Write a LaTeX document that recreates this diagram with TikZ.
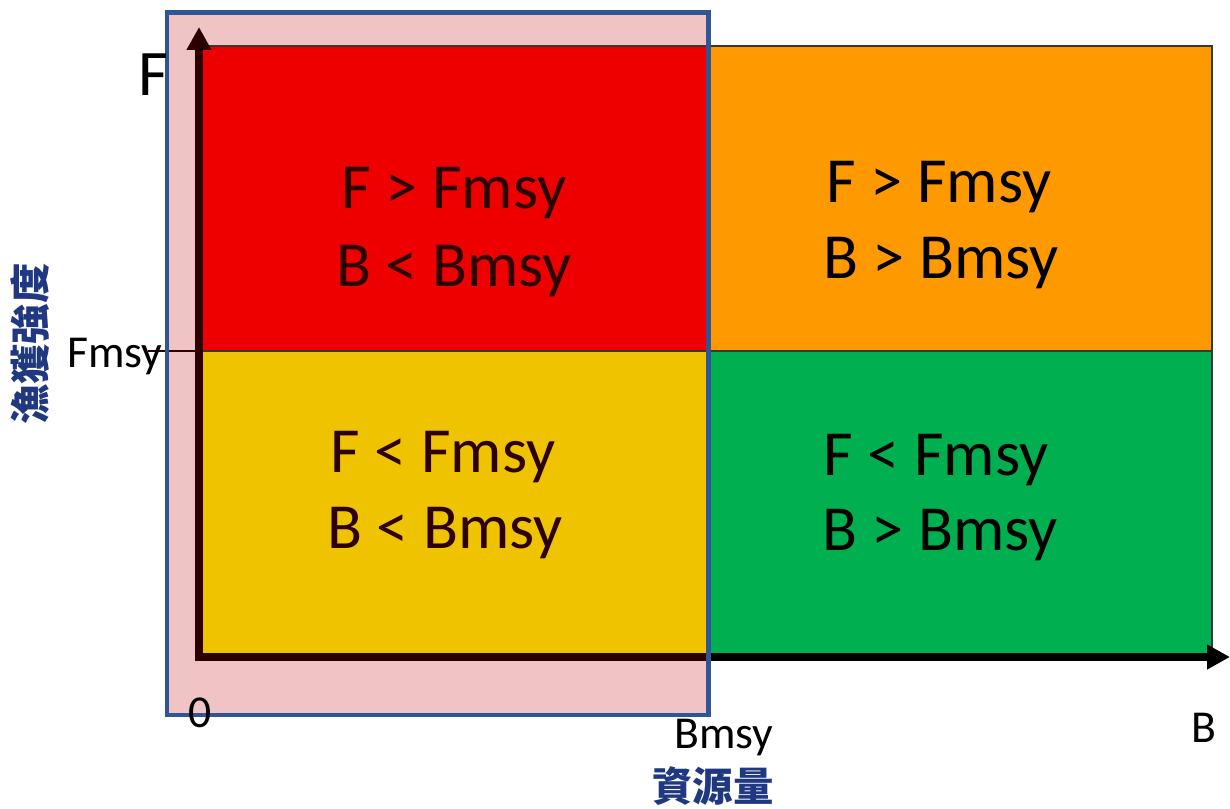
\documentclass[tikz,border=0pt]{standalone}
\usepackage{fontspec}
\setmainfont{Carlito}
\newfontfamily\cjk{Noto Sans CJK TC}
\usetikzlibrary{arrows.meta}
\definecolor{qred}{RGB}{238,0,0}
\definecolor{qorange}{RGB}{255,153,0}
\definecolor{qyellow}{RGB}{240,195,0}
\definecolor{qgreen}{RGB}{0,176,80}
\definecolor{pinkbg}{RGB}{240,195,197}
\definecolor{frameblue}{RGB}{47,85,151}
\definecolor{darkbrown}{RGB}{45,0,0}
\definecolor{cjkblue}{RGB}{32,56,130}
\definecolor{edgegray}{RGB}{55,55,55}
\tikzset{
  quad/.style={draw=edgegray, line width=0.04cm},
  qtext/.style={anchor=base, inner sep=0, font=\fontsize{36.6}{44}\selectfont},
  axlabel/.style={anchor=base, inner sep=0, font=\fontsize{26}{30}\selectfont},
  cjklabel/.style={inner sep=0, text=cjkblue, font=\cjk\bfseries\fontsize{23}{28}\selectfont},
  axisline/.style={line width=0.15cm, line join=miter},
  tip/.style={-{Triangle[length=0.46cm,width=0.47cm]}},
}
\begin{document}
\begin{tikzpicture}[x=0.02cm,y=-0.02cm]
\useasboundingbox (0,0) rectangle (1230,808);
% pink region
\fill[pinkbg] (167,12.5) rectangle (708.5,715);
% quadrants
\draw[quad, fill=qred] (200,46) rectangle (708,351);
\draw[quad, fill=qorange] (708,46) rectangle (1212,351);
\draw[quad, fill=qyellow] (200,351) rectangle (708,657);
\draw[quad, fill=qgreen] (708,351) rectangle (1212,657);
% coordinates
\coordinate (ytip) at (199,27);
\coordinate (origin) at (199,657);
\coordinate (bmsyaxis) at (708,657);
\coordinate (xtip) at (1230,657);
\coordinate (fmsytick) at (148,351);
\coordinate (fmsyaxis) at (200,351);
% Fmsy tick
\draw[darkbrown, line width=0.04cm] (fmsytick) -- (fmsyaxis);
% axes
\draw[axisline, darkbrown, {Triangle[length=0.46cm,width=0.47cm]}-] (ytip) -- (origin) -- (bmsyaxis);
\draw[axisline, black, tip] (bmsyaxis) -- (xtip);
% blue frame
\draw[frameblue, line width=0.09cm] (167,12.5) rectangle (708.5,715);
% quadrant texts
\node[qtext, text=darkbrown] (r1) at (454,208) {F > Fmsy};
\node[qtext, text=darkbrown] (r2) at (454,286) {B < Bmsy};
\node[qtext] (o1) at (939,202) {F > Fmsy};
\node[qtext] (o2) at (941,278) {B > Bmsy};
\node[qtext, text=darkbrown] (y1) at (443,472) {F < Fmsy};
\node[qtext, text=darkbrown] (y2) at (445,548) {B < Bmsy};
\node[qtext] (g1) at (936,475) {F < Fmsy};
\node[qtext] (g2) at (940,550) {B > Bmsy};
% axis labels
\node[anchor=base, inner sep=0, font=\fontsize{37}{40}\selectfont] (Flabel) at (153,95) {F};
\node[axlabel, anchor=base west] (Fmsylabel) at (67,367) {Fmsy};
\node[axlabel] (zero) at (200,727) {0};
\node[axlabel] (Bmsylabel) at (724,748) {Bmsy};
\node[axlabel] (Blabel) at (1204,742) {B};
\node[cjklabel] (xname) at (713,786) {資源量};
\node[cjklabel, rotate=90] (yname) at (30,344) {漁獲強度};
\end{tikzpicture}
\end{document}
